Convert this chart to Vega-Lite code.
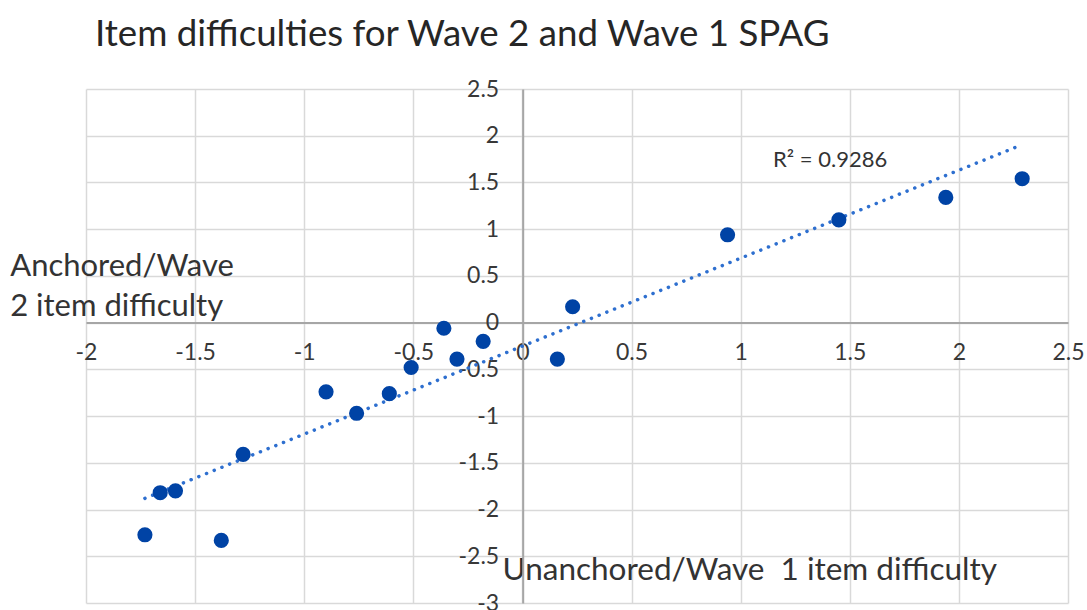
{
  "$schema": "https://vega.github.io/schema/vega-lite/v6.json",
  "width": 982,
  "height": 514,
  "autosize": {"type": "none"},
  "padding": {"left": 86, "top": 89, "right": 19, "bottom": 7},
  "background": "white",
  "config": {
    "view": {"stroke": null},
    "font": "Lato"
  },
  "title": {
    "text": "Item difficulties for Wave 2 and Wave 1 SPAG",
    "anchor": "start",
    "frame": "group",
    "font": "Lato",
    "fontSize": 36.7,
    "fontWeight": "normal",
    "color": "#262626",
    "baseline": "alphabetic",
    "offset": 0,
    "dx": 9,
    "dy": 5
  },
  "datasets": {
    "items": [
      {"w1": -1.73, "w2": -2.27},
      {"w1": -1.66, "w2": -1.82},
      {"w1": -1.59, "w2": -1.80},
      {"w1": -1.38, "w2": -2.33},
      {"w1": -1.28, "w2": -1.41},
      {"w1": -0.90, "w2": -0.74},
      {"w1": -0.76, "w2": -0.97},
      {"w1": -0.61, "w2": -0.76},
      {"w1": -0.51, "w2": -0.48},
      {"w1": -0.36, "w2": -0.06},
      {"w1": -0.30, "w2": -0.39},
      {"w1": -0.18, "w2": -0.20},
      {"w1": 0.16, "w2": -0.39},
      {"w1": 0.23, "w2": 0.17},
      {"w1": 0.94, "w2": 0.94},
      {"w1": 1.45, "w2": 1.10},
      {"w1": 1.94, "w2": 1.34},
      {"w1": 2.29, "w2": 1.54}
    ],
    "note": [
      {"w1": 1.41, "w2": 1.745, "label": "R² = 0.9286"}
    ]
  },
  "layer": [
    {
      "data": {"name": "items"},
      "transform": [{"regression": "w2", "on": "w1", "method": "linear"}],
      "mark": {"type": "line", "color": "#2e6fcf", "strokeWidth": 3.5, "strokeDash": [0.1, 8.2], "strokeCap": "round"},
      "encoding": {
        "x": {"field": "w1", "type": "quantitative", "scale": {"domain": [-2, 2.5], "nice": false, "zero": false},
          "axis": {
            "values": [-2, -1.5, -1, -0.5, 0, 0.5, 1, 1.5, 2, 2.5],
            "offset": -280.4,
            "grid": true, "gridColor": "#d9d9d9", "gridWidth": 1.5,
            "domain": true, "domainColor": "#a6a6a6", "domainWidth": 2,
            "ticks": false, "tickSize": 0,
            "labelFont": "Lato", "labelFontSize": 23, "labelColor": "#383838",
            "labelBaseline": "middle", "labelPadding": 30, "labelFlush": false, "labelOverlap": false,
            "labelExpr": "datum.value < 0 ? '-' + format(-datum.value, '~g') : format(datum.value, '~g')",
            "title": "Unanchored/Wave\u00a0 1 item difficulty",
            "titleFont": "Lato", "titleFontSize": 31.5, "titleFontWeight": "normal", "titleColor": "#333333",
            "titleAlign": "left", "titleBaseline": "alphabetic", "titleAngle": 0,
            "titleX": 416, "titleY": 256.4
          }
        },
        "y": {"field": "w2", "type": "quantitative", "scale": {"domain": [-3, 2.5], "nice": false, "zero": false},
          "axis": {
            "values": [-3, -2.5, -2, -1.5, -1, -0.5, 0, 0.5, 1, 1.5, 2, 2.5],
            "offset": -436.7,
            "grid": true, "gridColor": "#d9d9d9", "gridWidth": 1.5,
            "domain": true, "domainColor": "#a6a6a6", "domainWidth": 2,
            "ticks": false, "tickSize": 0,
            "labelFont": "Lato", "labelFontSize": 23, "labelColor": "#383838",
            "labelAlign": "right", "labelBaseline": "middle", "labelPadding": 24, "labelFlush": false, "labelOverlap": false,
            "labelExpr": "datum.value < 0 ? '-' + format(-datum.value, '~g') : format(datum.value, '~g')",
            "title": ["Anchored/Wave", "2 item difficulty"],
            "titleFont": "Lato", "titleFontSize": 31, "titleFontWeight": "normal", "titleColor": "#333333",
            "titleAlign": "left", "titleBaseline": "alphabetic", "titleAngle": 0, "titleLineHeight": 40,
            "titleX": -513, "titleY": 186
          }
        }
      }
    },
    {
      "data": {"name": "items"},
      "mark": {"type": "circle", "size": 230, "color": "#0043a5", "opacity": 1},
      "encoding": {
        "x": {"field": "w1", "type": "quantitative"},
        "y": {"field": "w2", "type": "quantitative"}
      }
    },
    {
      "data": {"name": "note"},
      "mark": {"type": "text", "font": "Lato", "fontSize": 22, "color": "#333333", "align": "center", "baseline": "middle"},
      "encoding": {
        "x": {"field": "w1", "type": "quantitative"},
        "y": {"field": "w2", "type": "quantitative"},
        "text": {"field": "label"}
      }
    }
  ]
}
